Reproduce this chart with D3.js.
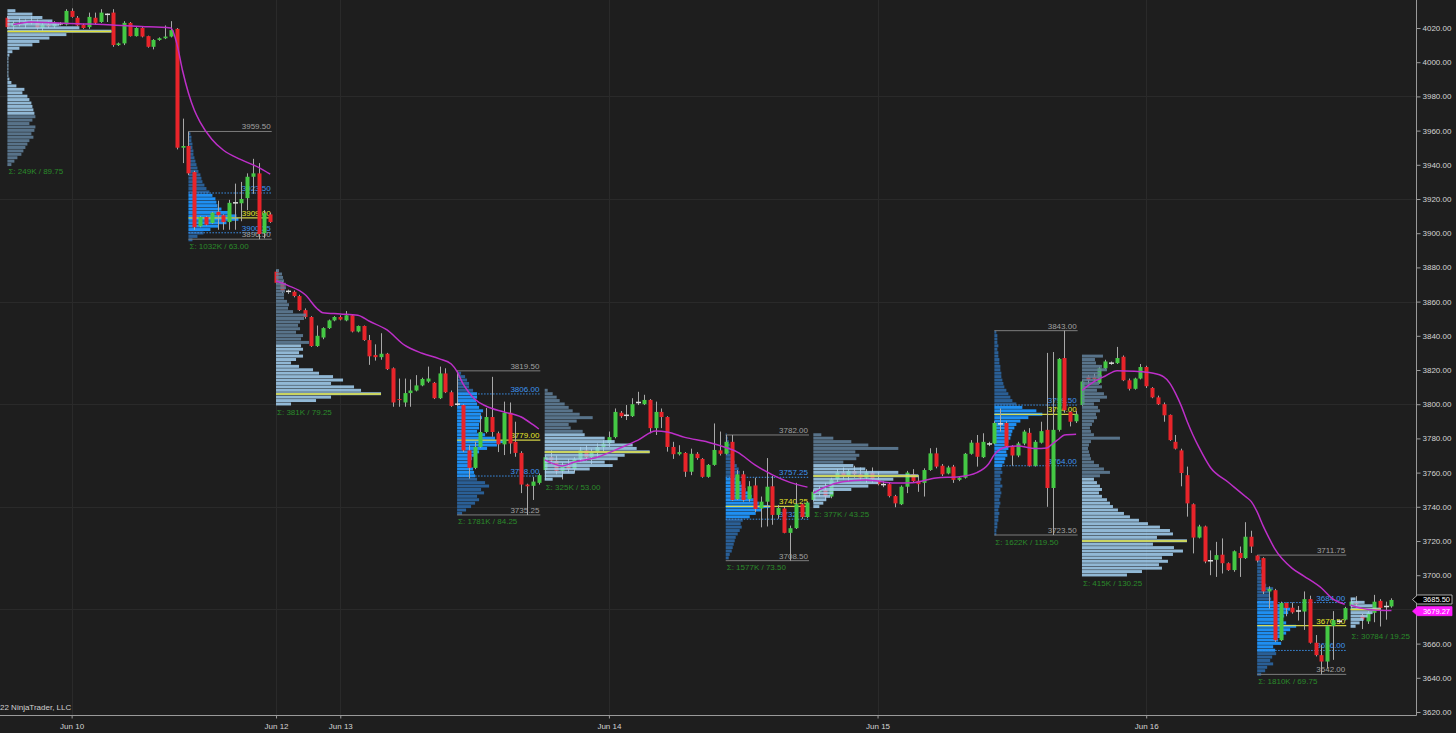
<!DOCTYPE html>
<html><head><meta charset="utf-8">
<script src="https://cdn.jsdelivr.net/npm/d3@7"></script>
<style>html,body{margin:0;padding:0;background:#1e1e1e;overflow:hidden}</style>
</head><body><svg id="c" width="1456" height="733"></svg>
<script>
// ---------- DATA (30-min bars, [open, high, low, close]) ----------
const session1Bars = [
[4026,4027,4019.5,4020.5],[4021,4024,4019,4023],[4023,4026,4021,4022],[4022,4025,4020,4024],
[4024,4027,4022,4023],[4023,4025,4019,4020],[4020,4023,4018,4022],[4022,4024,4020,4021],
[4021,4024,4020,4023],[4022.5,4023.5,4021.5,4022.25],[4022,4031,4021.5,4030],[4030,4031.5,4026,4026.5],
[4026,4027,4021,4021.5],[4021.75,4022.5,4019.5,4020],[4020.5,4029,4019.5,4026.5],[4026,4029,4022,4023],
[4023.5,4031,4023,4029],[4028,4028.5,4023.5,4028],[4029,4031,4009,4010],[4010,4011.5,4009.5,4011],
[4011,4024,4010,4023],[4023,4023.5,4015,4015.25],[4015.25,4020.5,4015,4020],[4020,4020.5,4014.5,4015],
[4015.25,4015.5,4008.5,4009],[4009,4013.5,4007.5,4013],[4013,4014.5,4012.5,4014],[4014,4021.5,4013.5,4015],
[4015,4024,4014.5,4018.75],[4019.5,4020,3949,3950],[3950,3967,3941,3951],[3951,3959.5,3934,3935],
[3935.75,3936.5,3902,3903.5],[3904,3910,3903.5,3909.5],[3909.5,3910,3904.5,3905],[3906,3912.5,3905.5,3912],
[3912.5,3919,3902,3910.5],[3910.5,3911,3902,3906.5],[3906.5,3919.5,3902,3917.75],[3917.75,3929,3902,3917.5],
[3917.5,3930,3907,3920],[3920.5,3935,3913.5,3933],[3933,3943.5,3923,3935],[3935,3941,3896.5,3899.5],
[3900,3913.5,3897,3911.75],[3911,3912,3906,3906.5]
];
const session2Bars = [
[3877.5,3878.5,3870.5,3871],[3871,3872,3865,3866],[3866,3867,3864.5,3865.75],[3865.75,3866.5,3862.5,3863.25],
[3863.25,3864,3854.5,3855],[3855,3856,3850,3851],[3851,3851.5,3833.5,3834],[3834,3846,3833.5,3840],
[3839,3845,3838,3844.5],[3844.5,3849.5,3844,3849],[3849,3851.5,3848.5,3851],[3851,3852,3849,3849.5],
[3849,3854.5,3848.5,3852],[3852,3852.5,3842,3842.5],[3842.5,3846,3842,3845.75],[3845.75,3846,3837,3837.5],
[3837.5,3840.5,3823,3828],[3828.75,3835,3825.5,3827.5],[3827.5,3841.5,3826,3829.5],[3829.5,3830,3820,3820.5],
[3821,3821.5,3798.5,3801],[3803,3815,3798.5,3802.5],[3801,3815,3798.5,3806.5],[3806.5,3814.5,3798.5,3808],
[3808,3817,3807.5,3811],[3811,3815.5,3810.5,3814.75],[3813.25,3822,3812.5,3815],[3812.5,3813,3803,3803.5],
[3803.5,3822,3803,3818],[3818,3821,3806.5,3807],[3807,3808,3798.5,3799],[3800,3819.5,3799,3799.75],
[3799.5,3800,3772,3773],[3773,3776,3756.5,3762.75],[3762.75,3778,3762,3775],[3775,3793.5,3774.5,3783.75],
[3783.75,3797.75,3783,3792.5],[3792.5,3816,3781,3783.75],[3783,3784,3772,3776.5],[3776.5,3801.5,3770.25,3795],
[3795,3801,3771,3777],[3778,3789.75,3769.25,3771.5],[3771.5,3772.5,3748,3753],[3753,3753.5,3735.25,3752],
[3752.25,3757.5,3744,3754.75],[3754,3759.5,3753,3758.5]
];
const session3Bars = [
[3761.5,3770.5,3755.75,3769],[3769,3773,3765,3767],[3767,3770,3759,3761],[3761,3766,3756,3764],
[3764,3768,3760,3762],[3762,3769,3760,3768],[3768,3775,3766,3773],[3773,3776,3767,3769],
[3769,3774,3765,3772],[3772,3777,3769,3775],[3775,3779,3772,3777],[3777.25,3784,3775,3780.75],
[3780.75,3797.5,3780,3795.5],[3795,3796,3792,3793],[3793.5,3799.5,3790.75,3793.25],[3793,3803.5,3792.5,3800],
[3801,3807.25,3799.5,3800.75],[3800,3805.5,3799.5,3802.5],[3802.5,3803,3783,3786],[3786,3801.5,3782,3795.5],
[3795.5,3797.5,3786,3792.5],[3792.5,3793,3772.25,3775],[3775,3778,3768,3770.75],[3770.75,3776,3770,3772],
[3771.5,3772,3757.5,3760.5],[3760.5,3774,3758.5,3771],[3771,3772,3767.5,3768.5],[3768,3768.5,3757,3757.5],
[3757.5,3765,3757,3764.5],[3764.5,3788.75,3764,3773.25],[3773,3784,3770,3771],[3771,3782,3770.5,3778],
[3778,3782,3743.5,3744],[3744.5,3761.5,3744,3759],[3759,3761,3743,3744],[3744.5,3755,3743,3752],
[3752.5,3757,3737,3738.75],[3739,3746,3728,3743],[3743,3768.5,3728.5,3751.75],[3752,3758,3729.5,3735.25],
[3735.25,3741,3733,3739.25],[3739,3740,3724.5,3724.75],[3724.75,3729,3708.5,3727.5],[3727.5,3754,3727,3741.5],
[3741.5,3742,3733,3734],[3734,3743,3733.5,3742.5]
];
const session4Bars = [
[3744,3750,3743,3748.75],[3748.75,3752,3746,3750],[3750,3754,3744,3746],[3746,3757,3745,3756],
[3756,3762,3754,3760],[3760,3763,3756,3758],[3758,3762,3755,3761],[3761,3764,3757,3759],
[3759,3763,3755,3757],[3757,3762,3754,3760],[3760,3763,3754,3756],[3755.75,3760.5,3752.5,3753.25],
[3753,3755,3751.5,3753.25],[3753.25,3754,3745.5,3746.25],[3746.25,3747,3739.75,3742],[3741.5,3752.5,3741,3751.75],
[3751.75,3761,3748,3760],[3759,3762,3754,3755],[3755.25,3758.5,3748.75,3753.25],[3754,3762.5,3746,3761.5],
[3761.5,3774.25,3761,3771.25],[3771.25,3774.5,3762.5,3763.5],[3764,3765,3758,3759],[3759.5,3764,3759,3763],
[3763.5,3764.5,3754,3755.75],[3755.75,3758,3755,3757],[3757,3771.5,3756.5,3771],[3771,3779,3770.5,3777.5],
[3777.5,3782,3763.5,3769.25],[3769,3783,3768.5,3778],[3776.75,3778,3775.5,3776.5],[3777,3790,3776.5,3789],
[3788.5,3797.5,3784,3788.25],[3789,3790,3775,3775.5],[3775.5,3776,3764,3770],[3770,3778,3769,3777],
[3777,3785,3776,3784],[3783.25,3786,3763.5,3764],[3764,3779,3763.5,3778],[3777.5,3789.75,3777,3784.25],
[3785,3830,3740,3751],[3751,3830.5,3723.5,3785],[3785,3827,3784,3826.5],[3827,3843,3795,3796.5],
[3795.5,3796,3787,3789.75],[3790,3796,3789,3794]
];
const session5Bars = [
[3799.5,3814,3799,3813.25],[3816,3817,3812,3814],[3816,3818,3813,3814.5],[3812.5,3822,3812,3821],
[3821,3826,3820.5,3825],[3824,3825,3823,3824.25],[3824,3833.5,3823.5,3827],[3827.75,3828.5,3813.5,3814],
[3814,3815,3808,3809],[3809,3815.5,3808.5,3815],[3815,3823.5,3814.5,3821.75],[3821.75,3822.5,3809.5,3810.5],
[3809.5,3810,3803.5,3804],[3804,3805,3799.5,3800],[3800,3801,3789.75,3793.5],[3793.75,3794,3778.5,3779],
[3778,3782,3773.5,3774],[3773,3774,3752,3759.75],[3758.5,3763.5,3734.25,3742],[3741.5,3742,3712.75,3722],
[3722,3729.5,3721.5,3728.5],[3728.5,3729,3707,3708],[3708.5,3714.5,3700,3708.75],[3709,3719.5,3699,3711.75],
[3712,3721.5,3701,3707],[3707,3707.5,3702.5,3703],[3703,3714.5,3702,3714],[3713,3716.75,3699,3710],
[3710,3731,3709.5,3722.5],[3722.5,3726,3713,3716.75],[3711.5,3711.75,3707.5,3708.5],[3710,3710.5,3689,3690.5],
[3690.5,3693.5,3680.5,3692],[3691.25,3692,3661,3662],[3662,3684.5,3661.5,3683.75],[3683.75,3684,3676,3680.75],
[3681,3684,3677.5,3678.25],[3679,3682,3673.5,3679.25],[3678.75,3690.5,3668,3686],[3686,3688,3660,3660.5],
[3660.5,3665,3652.5,3653.25],[3653.25,3659.25,3642,3649.5],[3649.5,3671,3645.5,3670.25],[3670.25,3679,3650.5,3673.75],
[3673,3674,3672,3673.25],[3674,3681.5,3673.5,3680.75]
];
const session6Bars = [
[3682,3686,3681,3684.5],[3684,3687.75,3681,3683],[3676.75,3677.5,3668.5,3674],[3673,3679,3671.5,3678],
[3678,3688.5,3672.5,3684.5],[3685,3686,3670,3680.75],[3681.75,3684.5,3674,3681.75],[3681.75,3686.5,3681,3685.5]
];

// VWAP readings per session: [bar index, price]
const vwap1 = [[1,4022],[4,4023.5],[8,4023],[12,4022.5],[18,4021.8],[22,4021],[28,4020],[29,4011],[30,3995],[31,3982],[32,3972],[33,3965],[35,3955],[37,3948.5],[40,3943],[43,3938.5],[45,3934.5]];
const vwap2 = [[46,3872],[48,3869.5],[51,3864],[53,3856],[54,3853.5],[57,3852.8],[60,3852],[62,3848.5],[65,3843.4],[68,3834.5],[71,3829.8],[74,3826.5],[76,3823.5],[77,3819],[78,3812],[79,3807],[80,3803],[82,3798.8],[85,3795.5],[88,3792.5],[90,3788],[91,3785.5]];
const vwap3 = [[92,3767.4],[95,3763.9],[97,3766],[101,3769],[105,3774.5],[108,3779],[111,3784.3],[113,3783.7],[116,3780.6],[120,3777.8],[123,3774.7],[125,3772],[128,3764.5],[131,3758.7],[134,3754.3],[137,3751.5]];
const vwap4 = [[138,3748],[140,3751.5],[143,3754.6],[147,3755.7],[152,3753.9],[155,3754.1],[159,3756.9],[163,3757.6],[166,3760],[168,3765],[169,3770.5],[171,3775],[173,3775.6],[176,3774.1],[178,3774.4],[179,3777],[180,3779.5],[181,3782],[183,3782.4]];
const vwap5 = [[184,3808],[186,3813],[188,3816.5],[190,3819.6],[193,3819.2],[196,3818.2],[198,3816],[199,3812.5],[200,3806.5],[201,3799],[202,3790],[203,3782],[204,3775],[206,3763],[209,3754.5],[212,3746],[213,3743],[214,3737],[215,3729],[216,3722],[217,3715.5],[220,3704],[222,3699.5],[225,3692.5],[227,3686],[229,3683]];
const vwap6 = [[230,3682.6],[232,3680.6],[234,3679.6],[237,3679.3]];

// Volume profiles: relative volume per 2-point bin, listed from the top bin downward
const eth1Vol = [8,25,35,45,52,72,104,59,42,32,25,12,5,2,1,1,1,1,1,1,2,4,9,17,15,20,22,24,25,26,27,28,25,22,28,27,24,26,22,20,18,16,14,10,7,4];
const rth1Vol = [2,3,3,4,4,5,5,6,7,8,9,10,12,13,14,16,18,21,24,27,28,29,33,40,48,50,38,30,22,15,9,4];
const eth2Vol = [3,6,7,8,10,10,9,8,8,11,13,12,17,30,28,24,22,24,20,27,25,33,25,27,23,27,20,15,23,37,43,57,67,55,78,85,105,55,40,15];
const rth2Vol = [4,8,10,12,12,16,20,20,19,20,22,26,24,25,24,22,22,20,28,38,46,40,30,22,18,15,14,14,16,17,18,20,28,32,24,27,20,22,18,14,9,5];
const eth3Vol = [3,8,12,15,20,24,28,35,48,32,24,26,38,40,60,70,88,92,105,80,73,60,68,45,30,18,8];
const rth3Vol = [1,2,3,4,4,4,5,7,9,11,13,14,12,12,15,17,20,23,26,28,33,44,36,30,24,17,15,16,14,12,10,9,8,7,6,4,3];
const eth4Vol = [8,20,38,55,85,42,46,43,30,40,52,85,105,80,65,55,38,20,17,13,10,6];
const rth4Vol = [2,3,3,3,4,3,4,4,5,5,6,6,7,7,8,9,10,12,14,16,18,22,28,42,48,34,26,22,20,18,17,16,14,13,14,12,13,11,10,8,7,8,6,7,6,8,6,7,6,5,6,5,4,5,4,4,3,3,2,2];
const eth5Vol = [21,13,14,20,25,18,20,16,17,20,15,22,25,18,12,16,18,14,15,12,10,8,9,12,38,9,7,6,7,8,9,12,17,22,28,18,12,15,18,20,17,20,25,28,31,36,42,48,57,66,78,88,91,75,105,71,92,101,91,80,86,77,80,60,45];
const rth5Vol = [3,4,4,5,4,5,6,7,9,16,13,12,14,18,26,33,31,27,24,29,39,33,29,26,21,24,16,18,19,15,13,16,10,8,4];
const eth6Vol = [5,14,22,30,22,17,13,9,5];

// Overnight (ETH) profiles: start bar, top bin, value area, POC, low, totals
const ethProfiles = [
  {vol: eth1Vol, start: 0,   top: 4030, vah: 4031, val: 3970, poc: 4018, low: 3940.25, total: "249K",  range: 89.75},
  {vol: eth2Vol, start: 46,  top: 3878, vah: 3835, val: 3798, poc: 3806, low: 3799.25, total: "381K",  range: 79.25},
  {vol: eth3Vol, start: 92,  top: 3808, vah: 3783, val: 3754, poc: 3772, low: 3755.25, total: "325K",  range: 53.00},
  {vol: eth4Vol, start: 138, top: 3782, vah: 3765, val: 3738, poc: 3758, low: 3739.75, total: "377K",  range: 43.25},
  {vol: eth5Vol, start: 184, top: 3828, vah: 3757, val: 3698, poc: 3720, low: 3699.25, total: "415K",  range: 130.25},
  {vol: eth6Vol, start: 230, top: 3686, vah: 3689, val: 3668, poc: 3680, low: 3668.50, total: "30784", range: 19.25}
];
// Regular-session (RTH) profiles
const rthProfiles = [
  {vol: rth1Vol, start: 31,  end: 45,  top: 3958, high: 3959.50, vah: 3923.50, poc: 3909.00, val: 3900.25, low: 3896.50, total: "1032K", range: 63.00},
  {vol: rth2Vol, start: 77,  end: 91,  top: 3818, high: 3819.50, vah: 3806.00, poc: 3779.00, val: 3758.00, low: 3735.25, total: "1781K", range: 84.25},
  {vol: rth3Vol, start: 123, end: 137, top: 3782, high: 3782.00, vah: 3757.25, poc: 3740.25, val: 3732.75, low: 3708.50, total: "1577K", range: 73.50},
  {vol: rth4Vol, start: 169, end: 183, top: 3842, high: 3843.00, vah: 3799.50, poc: 3794.00, val: 3764.00, low: 3723.50, total: "1622K", range: 119.50},
  {vol: rth5Vol, start: 214, end: 229, top: 3710, high: 3711.75, vah: 3684.00, poc: 3670.50, val: 3656.00, low: 3642.00, total: "1810K", range: 69.75}
];

const yTicks = d3.range(3620, 4021, 20);
const gridPrices = [3680, 3740, 3800, 3860, 3920, 3980];
const dateTicks = [{bar: 11, label: "Jun 10"}, {bar: 46, label: "Jun 12"}, {bar: 57, label: "Jun 13"},
                   {bar: 103, label: "Jun 14"}, {bar: 149, label: "Jun 15"}, {bar: 195, label: "Jun 16"}];
const lastPrice = 3685.50;
const lastVwap = 3679.27;
const copyrightVisible = "22 NinjaTrader, LLC";

// ---------- DRAWING ----------
const bars = [].concat(session1Bars, session2Bars, session3Bars, session4Bars, session5Bars, session6Bars);
const W = 1456, H = 733, plotR = 1416.5, plotB = 715.5;
const FONT = "'Liberation Sans', Arial, sans-serif";
const svg = d3.select("#c");
svg.append("rect").attr("width", W).attr("height", H).attr("fill", "#1e1e1e");
svg.append("defs").append("clipPath").attr("id", "clip")
  .append("rect").attr("x", 0).attr("y", 0).attr("width", plotR).attr("height", plotB);

const y = d3.scaleLinear().domain([3620, 4020]).range([712, 28]);
const x = d3.scaleLinear().domain([0, bars.length - 1]).range([7.4, 7.4 + (bars.length - 1) * 5.84]);
const vx = d3.scaleLinear().domain([0, 100]).range([0, 100]);
const BIN = 2;

const g = svg.append("g").attr("clip-path", "url(#clip)");

// grid
g.selectAll(".hg").data(gridPrices).join("line")
  .attr("x1", 0).attr("x2", plotR).attr("y1", d => Math.round(y(d)) + 0.5).attr("y2", d => Math.round(y(d)) + 0.5)
  .attr("stroke", "#2a2a2a").attr("stroke-width", 1);
g.selectAll(".vg").data(dateTicks).join("line")
  .attr("x1", d => Math.round(x(d.bar)) + 0.5).attr("x2", d => Math.round(x(d.bar)) + 0.5)
  .attr("y1", 0).attr("y2", plotB).attr("stroke", "#2a2a2a").attr("stroke-width", 1);

function binRows(p) {
  return p.vol.map((v, k) => ({price: p.top - k * BIN, v}));
}

// RTH profiles (under candles)
const rthG = g.append("g");
rthProfiles.forEach(p => {
  const x0 = x(p.start), x1 = x(p.end) + 1.5;
  const pg = rthG.append("g");
  pg.selectAll("rect.bin").data(binRows(p)).join("rect").attr("class", "bin")
    .attr("x", x0).attr("y", d => y(d.price + BIN / 2))
    .attr("width", d => vx(d.v)).attr("height", d => y(d.price - BIN / 2) - y(d.price + BIN / 2) - 0.45)
    .attr("fill", d => (d.price <= p.vah && d.price >= p.val) ? "#1f8ff2" : "#2a5f96");
  [p.high, p.low].forEach(v => {
    pg.append("line").attr("x1", x0).attr("x2", x1).attr("y1", y(v)).attr("y2", y(v)).attr("stroke", "#7d7d7d").attr("stroke-width", 1);
  });
  [p.vah, p.val].forEach(v => {
    pg.append("line").attr("x1", x0).attr("x2", x1).attr("y1", y(v)).attr("y2", y(v))
      .attr("stroke", "#3b8fe8").attr("stroke-width", 1).attr("stroke-dasharray", "1.5,1.5");
  });
  pg.append("line").attr("x1", x0).attr("x2", x1).attr("y1", y(p.poc)).attr("y2", y(p.poc))
    .attr("stroke", "#e4e44a").attr("stroke-width", 1.2).attr("opacity", 0.9);
  const labels = [[p.high, "#a0a0a0"], [p.vah, "#3d94f0"], [p.poc, "#e8e82a"], [p.val, "#3d94f0"], [p.low, "#a0a0a0"]];
  pg.selectAll("text.lv").data(labels).join("text").attr("class", "lv")
    .attr("x", x1 - 1).attr("y", d => y(d[0]) - 2).attr("text-anchor", "end")
    .attr("font-family", FONT).attr("font-size", 8).attr("fill", d => d[1]).text(d => d[0].toFixed(2));
});

// candles
const cg = g.append("g");
const cd = bars.map((b, i) => ({i, o: b[0], h: b[1], l: b[2], c: b[3]}));
cg.selectAll("line.wick").data(cd).join("line").attr("class", "wick")
  .attr("x1", d => Math.round(x(d.i)) + 0.5).attr("x2", d => Math.round(x(d.i)) + 0.5)
  .attr("y1", d => y(d.h)).attr("y2", d => y(d.l)).attr("stroke", "#a8a8a8").attr("stroke-width", 1);
cg.selectAll("rect.body").data(cd.filter(d => Math.abs(d.o - d.c) > 0.3)).join("rect").attr("class", "body")
  .attr("x", d => Math.round(x(d.i)) - 1.5).attr("width", 4)
  .attr("y", d => y(Math.max(d.o, d.c))).attr("height", d => Math.max(1, y(Math.min(d.o, d.c)) - y(Math.max(d.o, d.c))))
  .attr("fill", d => d.c > d.o ? "#44c844" : "#e8242a");
cg.selectAll("line.doji").data(cd.filter(d => Math.abs(d.o - d.c) <= 0.3)).join("line").attr("class", "doji")
  .attr("x1", d => Math.round(x(d.i)) - 2).attr("x2", d => Math.round(x(d.i)) + 3)
  .attr("y1", d => y(d.o)).attr("y2", d => y(d.o)).attr("stroke", "#dcdcdc").attr("stroke-width", 1.5);

// ETH profiles (over candles, semi-opaque)
const ethG = g.append("g");
ethProfiles.forEach(p => {
  const x0 = x(p.start);
  const pg = ethG.append("g");
  pg.selectAll("rect.bin").data(binRows(p)).join("rect").attr("class", "bin")
    .attr("x", x0).attr("y", d => y(d.price + BIN / 2))
    .attr("width", d => vx(d.v)).attr("height", d => y(d.price - BIN / 2) - y(d.price + BIN / 2) - 0.45)
    .attr("fill", d => (d.price <= p.vah && d.price >= p.val) ? "#a4d2f3" : "#62819c")
    .attr("opacity", 0.86);
  const pocV = p.vol[Math.round((p.top - p.poc) / BIN)];
  pg.append("line").attr("x1", x0).attr("x2", x0 + vx(pocV)).attr("y1", y(p.poc)).attr("y2", y(p.poc))
    .attr("stroke", "#dede3a").attr("stroke-width", 1.5);
});

// VWAP
const vline = d3.line().x(d => x(d[0])).y(d => y(d[1])).curve(d3.curveMonotoneX);
g.selectAll("path.vwap").data([vwap1, vwap2, vwap3, vwap4, vwap5, vwap6]).join("path").attr("class", "vwap")
  .attr("d", vline).attr("fill", "none").attr("stroke", "#bd2fc8").attr("stroke-width", 1.5);

// Σ labels
const allP = ethProfiles.map(p => ({start: p.start, low: p.low, total: p.total, range: p.range}))
  .concat(rthProfiles.map(p => ({start: p.start, low: p.low, total: p.total, range: p.range})));
g.selectAll("text.sig").data(allP).join("text").attr("class", "sig")
  .attr("x", d => x(d.start) + 1).attr("y", d => y(d.low) + 9.5)
  .attr("font-family", FONT).attr("font-size", 8).attr("fill", "#2a8a2a")
  .text(d => "Σ: " + d.total + " / " + d.range.toFixed(2));

// copyright (visible part)
svg.append("text").attr("x", 0).attr("y", 710).attr("font-family", FONT).attr("font-size", 8)
  .attr("fill", "#d0d0d0").text(copyrightVisible);

// axes
svg.append("line").attr("x1", plotR).attr("x2", plotR).attr("y1", 0).attr("y2", plotB).attr("stroke", "#9a9a9a");
svg.append("line").attr("x1", 0).attr("x2", plotR).attr("y1", plotB).attr("y2", plotB).attr("stroke", "#9a9a9a");
const ya = svg.append("g").attr("transform", `translate(${plotR},0)`)
  .call(d3.axisRight(y).tickValues(yTicks).tickFormat(d3.format(".2f")).tickSize(4).tickPadding(2));
ya.select(".domain").remove();
ya.selectAll("line").attr("stroke", "#9a9a9a");
ya.selectAll("text").attr("fill", "#d4d4d4").attr("font-family", FONT).attr("font-size", 8);
const xa = svg.append("g").attr("transform", `translate(0,${plotB})`)
  .call(d3.axisBottom(x).tickValues(dateTicks.map(d => d.bar))
    .tickFormat(b => dateTicks.find(d => d.bar === b).label).tickSize(3).tickPadding(5));
xa.select(".domain").remove();
xa.selectAll("line").attr("stroke", "#9a9a9a");
xa.selectAll("text").attr("fill", "#d4d4d4").attr("font-family", FONT).attr("font-size", 8);

// price markers
function marker(v, fill, stroke, dy) {
  const yy = y(v) + dy;
  const m = svg.append("g");
  m.append("path").attr("d", `M${plotR - 4},${yy} L${plotR + 1},${yy - 4.5} L1452,${yy - 4.5} L1452,${yy + 4.5} L${plotR + 1},${yy + 4.5} Z`)
    .attr("fill", fill).attr("stroke", stroke).attr("stroke-width", 0.8);
  m.append("text").attr("x", 1450).attr("y", yy + 2.8).attr("text-anchor", "end")
    .attr("font-family", FONT).attr("font-size", 7.5).attr("fill", "#ffffff").text(v.toFixed(2));
}
marker(lastPrice, "#000000", "#cfcfcf", -0.5);
marker(lastVwap, "#ff1cff", "#ff1cff", 0.5);
</script>
</body></html>
